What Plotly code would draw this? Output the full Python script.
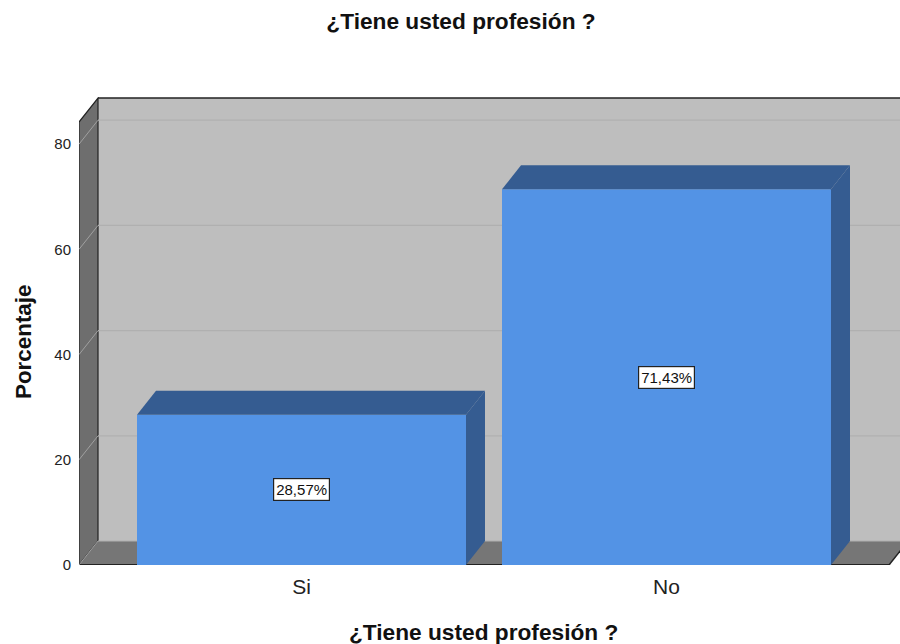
import plotly.graph_objects as go

categories = ["Si", "No"]
values = [28.57, 71.43]
labels = ["28,57%", "71,43%"]
y_ticks = [0, 20, 40, 60, 80]

TITLE = "¿Tiene usted profesión ?"
FONT = "Liberation Sans, Arial, sans-serif"
BLUE, BLUE_DK = "#5393E5", "#355C91"
WALL, SIDE, FLOOR, GRID = "#BEBEBE", "#6E6E6E", "#767676", "#B0B0B0"

W, H = 900, 644
L, B, T = 79, 79, 97
PX_X, PX_Y = 365.0, 5.26
DX, DY = 19 / PX_X, 24 / PX_Y
x_lo = -(301.5 - L) / PX_X
x_hi = x_lo + (W - L) / PX_X
y_hi = (H - B - T) / PX_Y
y_top = y_hi - 0.2
x_end = 1.6096
BAR_W = 329 / PX_X
xs = list(range(len(categories)))


def poly(points, fill, line=None, width=0, layer="below"):
    path = "M" + " L".join(f"{a},{b}" for a, b in points) + " Z"
    return dict(type="path", path=path, xref="x", yref="y", fillcolor=fill,
                line=dict(color=line or fill, width=width), layer=layer)


top_front = y_top - DY
shapes = [
    poly([(x_lo + DX, 0 + DY), (x_end + DX, DY), (x_end + DX, y_top), (x_lo + DX, y_top)], WALL),
    poly([(x_lo, 0), (x_lo + DX, DY), (x_lo + DX, y_top), (x_lo, top_front)], SIDE, "#222222", 1.2),
    poly([(x_lo, 0), (x_lo + DX, DY), (x_end + DX, DY), (x_end, 0)], FLOOR),
    dict(type="line", xref="x", yref="y", x0=x_lo + DX, x1=x_end + DX, y0=y_top, y1=y_top,
         line=dict(color="#222222", width=1.5), layer="below"),
    dict(type="line", xref="x", yref="y", x0=x_lo, x1=x_end, y0=0, y1=0,
         line=dict(color="#222222", width=2), layer="below"),
    dict(type="line", xref="x", yref="y", x0=x_end, x1=x_end + DX, y0=0, y1=DY,
         line=dict(color="#222222", width=1.5), layer="below"),
]
for t in y_ticks:
    shapes.append(dict(type="line", xref="x", yref="y", x0=x_lo, x1=x_lo + DX, y0=t, y1=t + DY,
                       line=dict(color="#A0A0A0", width=1), layer="below"))
    shapes.append(dict(type="line", xref="x", yref="y", x0=x_lo + DX, x1=x_end + DX, y0=t + DY, y1=t + DY,
                       line=dict(color=GRID, width=1.2), layer="below"))

for x, v in zip(xs, values):
    a, b = x - BAR_W / 2, x + BAR_W / 2
    shapes.append(poly([(a, v), (a + DX, v + DY), (b + DX, v + DY), (b, v)], BLUE_DK, layer="above"))
    shapes.append(poly([(b, 0), (b + DX, DY), (b + DX, v + DY), (b, v)], BLUE_DK, layer="above"))

annotations = [
    dict(x=x, y=v / 2, text=t, showarrow=False, xref="x", yref="y", bgcolor="white",
         bordercolor="#222222", borderwidth=1.2, borderpad=2,
         font=dict(family=FONT, size=15, color="#111111"))
    for x, v, t in zip(xs, values, labels)
]
annotations += [
    dict(text=f"<b>{TITLE}</b>", xref="paper", yref="paper", x=(483.5 - L) / (W - L),
         y=(H - B - 632) / (H - B - T), xanchor="center", yanchor="middle", showarrow=False,
         font=dict(family=FONT, size=22.7, color="#111111")),
    dict(text="<b>Porcentaje</b>", textangle=-90, xref="paper", yref="paper", x=(23 - L) / (W - L),
         y=(H - B - 342) / (H - B - T), xanchor="center", yanchor="middle", showarrow=False,
         font=dict(family=FONT, size=22.4, color="#111111")),
]

fig = go.Figure(go.Bar(x=xs, y=values, width=BAR_W, marker=dict(color=BLUE, line=dict(width=0)),
                       hoverinfo="skip"))
fig.update_layout(
    width=W, height=H, autosize=False,
    margin=dict(l=L, r=0, t=T, b=B),
    paper_bgcolor="white", plot_bgcolor="white", showlegend=False,
    font=dict(family=FONT, color="#111111"),
    title=dict(text=f"<b>{TITLE}</b>", x=461 / W, xanchor="center", y=1 - 21 / H, yanchor="middle",
               font=dict(family=FONT, size=22.7, color="#111111")),
    xaxis=dict(range=[x_lo, x_hi], tickvals=xs, ticktext=categories, showgrid=False, zeroline=False,
               ticks="", ticklabelstandoff=7, tickfont=dict(size=21, color="#222222")),
    yaxis=dict(range=[0, y_hi], tickvals=y_ticks, showgrid=False, zeroline=False,
               ticks="outside", ticklen=4, tickcolor="rgba(0,0,0,0)", tickfont=dict(size=15, color="#222222")),
    shapes=shapes, annotations=annotations,
)
fig.write_html("out.html", config={"displayModeBar": False},
               post_script="document.body.style.margin='0';")
